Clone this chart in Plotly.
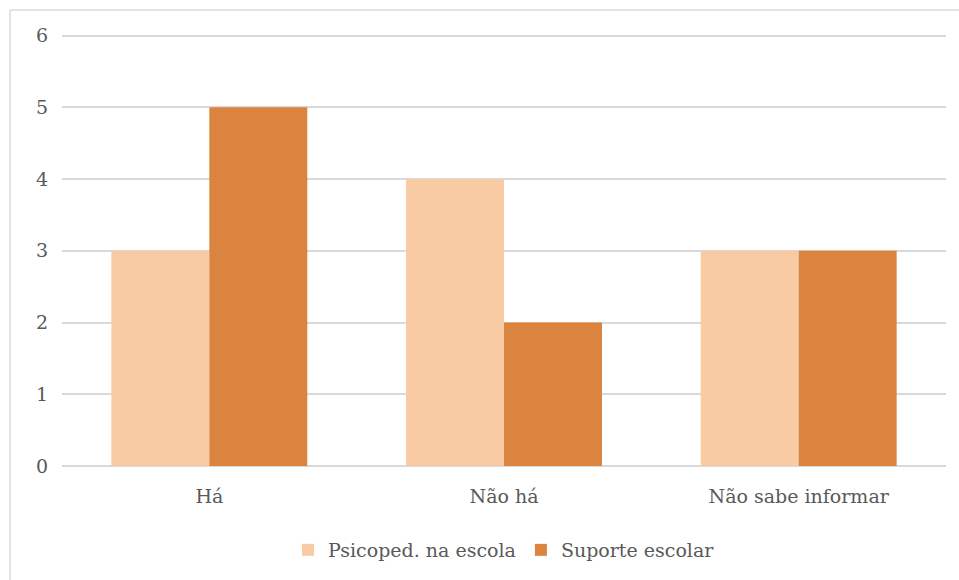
import plotly.graph_objects as go

categories = ["Há", "Não há", "Não sabe informar"]
psicoped = [3, 4, 3]
suporte = [5, 2, 3]
series_names = ["Psicoped. na escola", "Suporte escolar"]
y_ticks = [0, 1, 2, 3, 4, 5, 6]

W, H = 959, 580
ML, MR, MT, MB = 62, 13, 32, 114
FONT = "DejaVu Serif"
TEXT = "#595959"
GRID = "#D9D9D9"

fig = go.Figure()
fig.add_trace(go.Bar(x=categories, y=psicoped, name=series_names[0],
                     marker=dict(color="#F9CBA4", line=dict(width=0))))
fig.add_trace(go.Bar(x=categories, y=suporte, name=series_names[1],
                     marker=dict(color="#DB843F", line=dict(width=0))))

pw = W - ML - MR
ph = H - MT - MB
# outer frame: top and left edges only
fig.add_shape(type="line", xref="paper", yref="paper",
              x0=(10 - ML) / pw, x1=(W - ML) / pw,
              y0=(H - MB - 10) / ph, y1=(H - MB - 10) / ph,
              line=dict(color=GRID, width=1.5))
fig.add_shape(type="line", xref="paper", yref="paper",
              x0=(10 - ML) / pw, x1=(10 - ML) / pw,
              y0=(H - MB - 10) / ph, y1=-MB / ph,
              line=dict(color=GRID, width=1.5))

fig.update_layout(
    width=W, height=H,
    margin=dict(l=ML, r=MR, t=MT, b=MB, autoexpand=False),
    paper_bgcolor="white", plot_bgcolor="white",
    barmode="group", bargap=0.335, bargroupgap=0,
    font=dict(family=FONT, size=19, color=TEXT),
    showlegend=True,
    legend=dict(orientation="h", x=0.5, xanchor="center",
                yref="container", y=30 / H, yanchor="middle",
                font=dict(family=FONT, size=19, color=TEXT), traceorder="normal",
                itemwidth=30),
    xaxis=dict(showline=False, ticks="", tickfont=dict(size=19, color=TEXT),
               ticklabelstandoff=17, showgrid=False, zeroline=False),
    yaxis=dict(range=[0, 6.05], tickvals=y_ticks, showgrid=True, gridcolor=GRID,
               gridwidth=1.5, zeroline=True, zerolinecolor=GRID, zerolinewidth=1.5,
               showline=False, ticks="", ticklabelstandoff=13,
               tickfont=dict(size=19, color=TEXT)),
)

fig.write_html("out.html")
